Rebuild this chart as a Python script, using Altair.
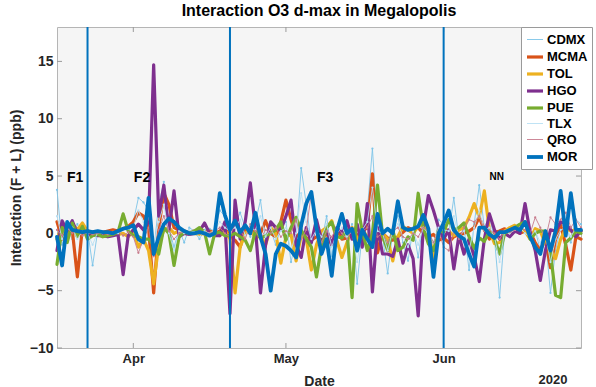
import altair as alt
import pandas as pd

FONT = "Liberation Sans"

series_names = ["CDMX", "MCMA", "TOL", "HGO", "PUE", "TLX", "QRO", "MOR"]
series_colors = ["#7DC4E8", "#D95319", "#EDB120", "#7E2F8E", "#77AC30", "#B8E0F4", "#C77B8C", "#0072BD"]
series_widths = [0.9, 3.2, 3.2, 3.2, 3.2, 0.9, 0.9, 3.8]

start_date = "2020-03-17"
n_days = 104

cdmx = [3.8, -1.0, 0.5, -0.5, 0.8, -0.2, 0.3, -2.8, 0.2, 0.0,
        0.1, 0.0, -0.3, 0.5, 0.2, 1.0, 3.1, 2.7, 2.0, -1.5,
        2.5, 4.5, 0.5, -1.2, 0.3, -0.8, 0.5, 0.2, -0.5, 0.3,
        0.4, 0.2, 2.0, 1.5, -0.5, 0.8, 1.8, 0.5, -0.3, 1.0,
        2.9, -0.5, 0.3, -1.0, 0.5, 1.0, -2.5, -0.5, 5.7, 2.5,
        -1.0, 0.5, -0.8, 1.5, -2.0, 0.5, 1.2, -0.5, 0.8, -4.4,
        0.0, 2.0, 7.4, 0.5, -0.3, -3.5, 0.2, 1.5, -0.8, -2.4,
        0.5, -2.1, 1.0, 0.3, -1.5, 1.2, 0.8, 0.0, 3.1, -0.5,
        0.5, -3.2, 0.8, 4.2, 0.5, 1.5, -0.5, -5.6, 0.3, 0.1,
        0.5, 0.8, 0.2, -0.5, 0.3, -1.5, -0.3, -5.2, -1.5, 0.5,
        1.0, -0.8, 1.2, 0.8]

mcma = [1.0, -0.5, 0.8, 0.3, -3.8, 0.5, 0.2, 0.1, 0.0, 0.1,
        0.2, 0.3, 0.2, 0.4, 0.6, 1.0, 1.8, 1.5, 0.5, -5.2,
        0.5, 3.5, 2.5, 0.5, 0.3, 0.2, 0.1, 0.2, 0.0, 0.1,
        0.2, 0.0, 0.2, 0.5, -0.3, -0.6, -1.2, 0.3, 0.0, 0.2,
        0.0, 1.1, 0.0, -0.3, 1.0, 2.9, 1.2, -0.3, 0.1, -0.4,
        -0.6, -0.3, -0.3, 0.0, -1.0, 0.4, -0.5, -0.4, 0.3, -0.2,
        0.2, 0.5, 5.2, -1.7, 0.0, -0.4, -0.6, -0.3, 0.1, 0.5,
        0.3, 0.5, 0.0, -0.3, -0.1, -0.6, -0.4, -0.8, -0.3, -0.1,
        0.0, 0.2, 0.5, 1.4, 0.3, -0.5, 0.1, 0.2, 0.4, 0.1,
        0.3, 0.0, 0.2, 0.1, -0.8, -1.5, -0.5, -3.0, -0.5, 0.7,
        -1.0, -3.2, -0.3, -0.5]

tol = [-0.5, 0.6, -0.3, 0.8, 0.3, 0.9, 0.2, 0.0, 0.1, 0.0,
       0.0, 0.1, -0.1, 0.0, -0.3, 0.2, -1.2, -0.5, -1.5, -4.4,
       -1.0, 0.3, 0.5, 0.0, 0.2, 0.0, 0.1, 0.0, -0.1, 0.0,
       0.1, -0.1, -0.2, 0.3, -0.5, -5.2, -1.2, 0.0, 0.3, -0.4,
       -0.2, -1.0, 0.5, 0.0, -2.6, -0.3, -0.1, -2.4, -0.2, -0.5,
       -3.2, -1.0, 0.2, 0.5, 1.1, -0.6, -2.1, -0.8, 0.5, -0.6,
       0.4, -0.3, -0.8, -0.6, 0.0, -0.5, -2.4, -0.3, 0.6, 0.3,
       0.0, 0.6, 0.8, 0.2, -2.1, 0.2, 0.5, 0.2, -0.2, 0.3,
       0.5, 1.4, 2.6, 1.4, 3.7, 0.3, -0.9, -0.8, 0.2, 0.5,
       0.7, 0.3, 0.2, -0.5, 0.4, 0.2, -0.9, -1.5, -2.2, -0.5,
       0.4, 0.2, 0.3, 0.2]

hgo = [-1.5, 1.1, 0.2, 1.1, 0.0, 0.3, -0.2, -0.1, -0.2, -0.2,
       -0.3, -0.2, -0.1, -3.6, -0.2, 0.3, 0.8, 0.3, 1.0, 14.7,
       1.5, 4.2, 0.3, 3.7, -0.3, 0.0, -0.1, 0.0, 0.2, 0.9,
       0.0, -0.2, -0.2, 1.0, -7.0, 2.9, -0.5, 1.0, 4.4, 0.5,
       -5.2, -1.0, 1.0, 0.5, 0.3, 1.5, 2.9, -1.0, -2.1, 0.5,
       -0.8, 1.2, -0.6, 0.3, -1.0, 0.5, 0.0, 1.1, -0.5, 0.8,
       -1.2, 2.6, -5.1, 0.5, -1.8, -1.8, -2.0, -0.5, -2.6, -1.0,
       -2.2, -7.2, 0.5, 3.3, 2.0, 0.5, -0.5, 0.3, -3.1, -0.2,
       -1.8, -0.5, -2.0, -4.2, -0.5, 1.7, 0.3, -0.5, 0.0, -0.3,
       0.2, 0.0, 2.6, 0.1, -1.5, -4.1, -1.5, 0.3, 0.2, 1.0,
       0.8, 0.3, -0.3, 0.2]

pue = [-2.7, 0.5, -0.8, 0.9, -0.3, 0.6, -0.5, -0.2, -0.1, -0.3,
       -0.2, -0.1, 0.1, 1.7, 0.2, -0.2, -0.3, -0.5, -0.5, -1.0,
       -1.8, 0.5, 0.0, -2.8, -0.3, 0.1, 0.0, 0.2, 0.5, 0.1,
       -1.8, 0.0, 0.1, -0.2, -0.2, 0.0, -0.3, -0.6, -1.5, 0.2,
       -0.4, -0.2, 0.0, 0.3, 1.0, -0.6, 0.5, 1.4, 0.3, -0.5,
       -1.2, -3.8, -1.1, 0.5, 1.0, -0.3, -0.4, 0.3, -5.6, 2.6,
       0.2, -1.5, 0.0, 4.2, -0.2, -1.5, 0.3, -1.5, -1.2, -0.3,
       -0.6, 3.5, 0.5, -0.9, -1.5, 0.3, 0.1, 1.2, 0.3, 0.5,
       0.9, -0.3, -1.3, -0.4, -0.7, 0.2, -0.5, -1.8, 0.0, 0.3,
       0.5, 0.8, 1.0, -0.5, 0.0, 0.2, 0.2, -1.7, -5.4, -5.6,
       -0.8, -0.4, 0.2, 0.0]

tlx = [1.5, -0.5, 0.3, 0.5, -0.5, 0.2, 0.0, -1.0, 0.1, 0.0,
       0.0, 0.1, 0.0, 0.3, 0.4, 0.5, 2.0, 1.0, 1.5, -1.0,
       1.0, 2.5, 0.0, -1.5, 0.2, 0.0, 0.3, 0.1, -0.3, 0.2,
       0.0, 0.3, 1.0, 0.5, 0.2, 0.5, 1.2, -0.2, 0.5, 0.3,
       1.5, -0.3, 0.5, -0.5, 0.2, 0.5, -1.5, 0.0, 3.5, 1.0,
       -0.5, 0.3, -0.3, 0.8, -1.2, 0.0, 0.5, -0.3, 0.2, -2.5,
       0.3, 1.0, 4.0, 0.2, 0.0, -1.5, 0.3, 0.8, -0.3, -1.2,
       0.2, -1.0, 0.5, 0.0, -0.8, 0.5, 0.3, 0.2, 1.5, -0.3,
       0.2, -1.5, 0.5, 2.0, 0.3, 0.5, -0.3, -2.5, 0.2, 0.0,
       0.3, 0.5, 0.0, -0.3, 0.2, -0.8, 0.0, -2.5, -0.5, 0.3,
       0.5, -0.3, 0.5, 0.3]

qro = [0.3, -0.2, 0.5, 0.0, 0.3, -0.2, 0.1, -0.1, 0.0, 0.1,
       -0.1, 0.0, 0.2, -0.2, 0.1, -0.3, -1.7, -0.5, 0.5, -2.0,
       0.3, 1.5, 0.2, -0.5, 0.0, 0.1, -0.1, 0.0, 0.2, -0.1,
       0.0, 0.2, 0.5, 0.0, -0.3, 1.0, 0.3, -0.5, 0.8, 0.2,
       -0.5, 0.3, 0.0, 0.5, -0.3, 0.2, 0.0, 1.2, -0.5, 0.3,
       3.5, 0.5, -0.8, 0.2, -0.3, 0.5, 0.0, -0.5, 0.3, -1.0,
       0.2, 0.5, 1.5, -0.3, 0.0, -0.8, 0.2, 0.5, -0.3, -0.5,
       0.0, -0.3, 0.5, 0.2, -0.8, 0.3, -1.2, -1.5, 0.2, -0.5,
       0.5, 1.2, 1.0, 1.5, 0.2, 0.3, 0.0, -0.5, 0.2, 0.1,
       0.3, 0.5, 0.3, 0.0, 1.4, 0.5, -0.5, 1.4, 0.8, 1.2,
       1.8, 0.5, 1.2, 0.5]

mor = [-0.3, -2.8, 1.0, 0.3, 0.2, 0.1, 0.2, 0.1, 0.2, 0.1,
       0.1, 0.0, 0.2, 0.4, 0.5, 0.7, -0.5, -0.8, 3.1, -1.8,
       -0.3, 0.8, 1.3, 1.0, 0.5, 0.2, 0.0, 0.0, 0.1, 0.0,
       -0.2, 0.0, 3.5, 1.6, 0.3, 1.1, 0.1, 0.7, 0.0, 1.8,
       -0.3, -1.8, -5.0, -1.8, -0.9, -1.1, -1.5, -2.1, 0.7, 2.6,
       3.6, 0.5, -1.8, -0.5, -3.7, 0.2, 1.7, 0.0, 0.4, -1.5,
       0.3, -0.5, -1.2, 1.7, 0.0, 0.4, 0.0, 2.8, 0.5, 0.3,
       0.4, 0.6, 1.6, 0.4, -3.8, 0.0, 0.9, 2.0, 0.3, -0.2,
       -0.5, -1.8, -2.9, 0.5, 0.5, -0.1, -0.4, 0.1, 0.1, 0.3,
       0.5, 0.3, 1.0, -0.3, -1.2, -1.8, 0.2, -1.5, 0.2, 3.7,
       -0.2, 3.5, 0.3, 0.3]

series_values = [cdmx, mcma, tol, hgo, pue, tlx, qro, mor]
for vals in series_values:
    assert len(vals) == n_days, len(vals)

phase_dates = ["2020-03-23", "2020-04-20", "2020-06-01"]
phase_labels = ["F1", "F2", "F3", "NN"]
phase_label_dates = ["2020-03-20T14:00:00Z", "2020-04-02T17:00:00Z", "2020-05-08T17:00:00Z", "2020-06-11T10:00:00Z"]
phase_label_y = [4.85, 4.85, 4.85, 4.9]
phase_label_size = [14, 14, 14, 10]

y_ticks = [-10, -5, 0, 5, 10, 15]
x_tick_dates = ["2020-04-01", "2020-05-01", "2020-06-01"]
year_label = ["2020"]
year_label_date = ["2020-06-22T12:00:00Z"]

# ---------- tables ----------
dates = pd.date_range(start_date, periods=n_days, freq="D").strftime("%Y-%m-%d").tolist()
rows = []
for name, vals in zip(series_names, series_values):
    for d, v in zip(dates, vals):
        rows.append({"date": d, "series": name, "value": v})
df = pd.DataFrame(rows)

W, H = 524, 321

x_scale = alt.Scale(type="utc", domain=[alt.DateTime(year=2020, month=3, date=17, utc=True),
                                        alt.DateTime(year=2020, month=6, date=28, utc=True)])
y_scale = alt.Scale(domain=[-10, 18], nice=False, zero=False)

x_axis = alt.Axis(values=[alt.DateTime(year=2020, month=int(d[5:7]), date=int(d[8:10]), utc=True) for d in x_tick_dates],
                  format="%b", title="Date", ticks=False, domain=False, grid=False,
                  labelFont=FONT, labelFontSize=13, labelFontWeight="bold", labelColor="#262626",
                  labelPadding=4, titleFont=FONT, titleFontSize=14, titleFontWeight="bold",
                  titleColor="#262626", titlePadding=9)
y_axis = alt.Axis(values=y_ticks, title="Interaction (F + L) (ppb)", ticks=False, domain=False, grid=False,
                  labelFont=FONT, labelFontSize=14, labelFontWeight="bold", labelColor="#262626",
                  labelPadding=4, titleFont=FONT, titleFontSize=14, titleFontWeight="bold",
                  titleColor="#262626", titlePadding=6)


def X(field):
    return alt.X(field, scale=x_scale, axis=x_axis)


def Y(field):
    return alt.Y(field, scale=y_scale, axis=y_axis)


color_scale = alt.Scale(domain=series_names, range=series_colors)
width_scale = alt.Scale(type="ordinal", domain=series_names, range=series_widths)
legend = alt.Legend(orient="none", legendX=464, legendY=0, title=None, fillColor="white",
                    strokeColor="#9a9a9a", padding=4, labelFont=FONT, labelFontSize=13,
                    labelFontWeight="bold", labelColor="black", symbolType="stroke",
                    symbolSize=256, rowPadding=0, labelOffset=2, cornerRadius=0)

layers = []
for name in series_names:
    layers.append(
        alt.Chart(df).transform_filter(alt.datum.series == name)
        .mark_line(strokeJoin="round", strokeCap="round")
        .encode(x=X("date:T"), y=Y("value:Q"),
                color=alt.Color("series:N", scale=color_scale, legend=legend),
                strokeWidth=alt.StrokeWidth("series:N", scale=width_scale, legend=legend))
    )
    if name in ("CDMX", "QRO", "TLX"):
        col = series_colors[series_names.index(name)]
        layers.append(
            alt.Chart(df).transform_filter(alt.datum.series == name)
            .mark_point(filled=True, size=5, color=col, opacity=1)
            .encode(x=X("date:T"), y=Y("value:Q"))
        )

vlines = alt.Chart(pd.DataFrame({"d": phase_dates})).mark_rule(color="#0072BD", strokeWidth=2).encode(x=X("d:T"))

labels_df = pd.DataFrame({"d": phase_label_dates, "v": phase_label_y, "t": phase_labels, "s": phase_label_size})
labels = alt.Chart(labels_df).mark_text(font=FONT, fontWeight="bold", color="black", baseline="middle",
                                         align="center").encode(
    x=X("d:T"), y=Y("v:Q"), text="t:N", size=alt.Size("s:Q", scale=None, legend=None))

ytick_df = pd.DataFrame({"v": y_ticks})
xtick_df = pd.DataFrame({"d": x_tick_dates})
tick_color = "#9a9a9a"
left_ticks = alt.Chart(ytick_df).mark_rule(color=tick_color).encode(y=Y("v:Q"), x=alt.value(0), x2=alt.value(5))
right_ticks = alt.Chart(ytick_df).mark_rule(color=tick_color).encode(y=Y("v:Q"), x=alt.value(W - 5), x2=alt.value(W))
bottom_ticks = alt.Chart(xtick_df).mark_rule(color=tick_color).encode(x=X("d:T"), y=alt.value(H - 5), y2=alt.value(H))
top_ticks = alt.Chart(xtick_df).mark_rule(color=tick_color).encode(x=X("d:T"), y=alt.value(0), y2=alt.value(5))

year_txt = alt.Chart(pd.DataFrame({"d": year_label_date, "t": year_label})).mark_text(
    font=FONT, fontSize=13, fontWeight="bold", color="#262626", baseline="middle", align="center"
).encode(x=X("d:T"), y=alt.value(H + 32), text="t:N")

chart = alt.layer(
    left_ticks, right_ticks, bottom_ticks, top_ticks,
    *layers, vlines, labels, year_txt
).properties(
    width=W, height=H,
    title=alt.TitleParams("Interaction O3 d-max in Megalopolis", font=FONT, fontSize=16,
                          fontWeight="bold", color="black", anchor="middle", offset=7),
    autosize=alt.AutoSizeParams(type="none"),
    padding={"left": 57, "top": 27, "right": 15, "bottom": 39},
).configure_view(stroke="#b5b5b5", strokeWidth=1, fill="#f5f5f5")

chart.save("out.html", embed_options={"renderer": "svg", "actions": False})
